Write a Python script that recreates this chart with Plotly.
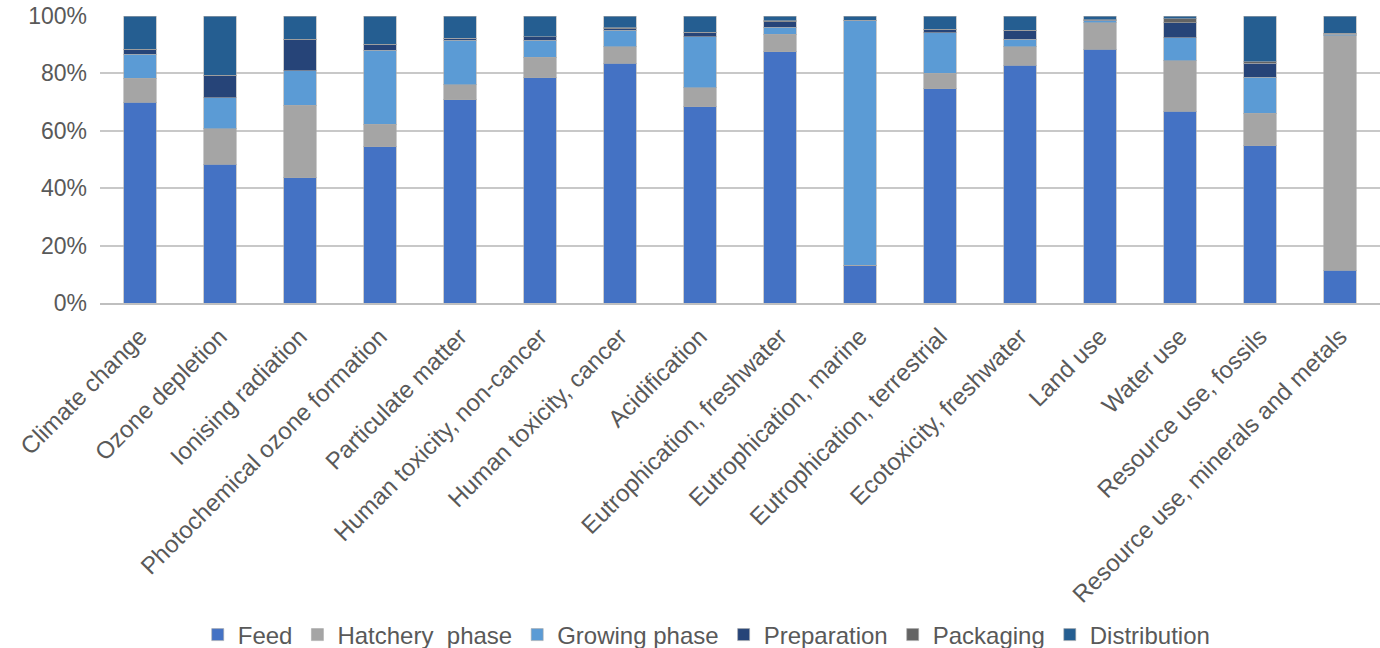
import plotly.graph_objects as go

categories = ["Climate change", "Ozone depletion", "Ionising radiation",
              "Photochemical ozone formation", "Particulate matter",
              "Human toxicity, non-cancer", "Human toxicity, cancer",
              "Acidification", "Eutrophication, freshwater", "Eutrophication, marine",
              "Eutrophication, terrestrial", "Ecotoxicity, freshwater", "Land use",
              "Water use", "Resource use, fossils", "Resource use, minerals and metals"]

feed =        [70.0, 48.4, 43.7, 54.4, 70.8, 78.4, 83.5, 68.3, 87.5, 12.9, 74.6, 82.9, 88.5, 66.9, 54.8, 11.5]
hatchery =    [8.3, 12.4, 25.2, 7.9, 5.3, 7.2, 5.8, 6.7, 6.2, 0.2, 5.4, 6.4, 9.2, 17.5, 11.4, 81.6]
growing =     [8.4, 10.7, 12.1, 25.8, 15.5, 6.0, 5.7, 17.7, 2.3, 85.2, 14.2, 2.6, 0.6, 8.1, 12.5, 0.6]
preparation = [1.5, 7.7, 10.7, 1.9, 0.6, 1.1, 0.6, 1.5, 2.0, 0.2, 1.0, 3.0, 0.2, 5.2, 4.8, 0.2]
packaging =   [0.3, 0.2, 0.2, 0.2, 0.1, 0.1, 0.3, 0.2, 0.3, 0.1, 0.2, 0.1, 0.2, 1.3, 0.6, 0.1]
distribution= [11.5, 20.6, 8.1, 9.8, 7.7, 7.2, 4.1, 5.6, 1.7, 1.4, 4.6, 5.0, 1.3, 1.0, 15.9, 6.0]

series_names = ["Feed", "Hatchery  phase", "Growing phase", "Preparation", "Packaging", "Distribution"]
series_values = [feed, hatchery, growing, preparation, packaging, distribution]
colors = ["#4472C4", "#A5A5A5", "#5B9BD5", "#264478", "#636363", "#255E91"]

ytick_vals = [0, 20, 40, 60, 80, 100]
ytick_text = ["0%", "20%", "40%", "60%", "80%", "100%"]

fig = go.Figure()
for name, vals, col in zip(series_names, series_values, colors):
    fig.add_trace(go.Bar(
        x=categories, y=vals, name=name,
        marker=dict(color=col, line=dict(color="rgba(170,170,170,0.6)", width=1)),
    ))

font = dict(family="Liberation Sans, Arial, sans-serif", size=23, color="#595959")
xfont = dict(family="Liberation Sans, Arial, sans-serif", size=24, color="#595959")
lfont = dict(family="Liberation Sans, Arial, sans-serif", size=24, color="#595959")

fig.update_layout(
    barmode="stack",
    bargap=0.59,
    width=1380, height=648,
    margin=dict(l=100, r=0, t=16, b=345, autoexpand=False),
    paper_bgcolor="white", plot_bgcolor="white",
    font=font,
    showlegend=True,
    legend=dict(orientation="h", x=0.474, xanchor="center",
                yref="container", y=1 - 635 / 648, yanchor="middle",
                font=lfont, traceorder="normal", itemwidth=30),
    xaxis=dict(tickangle=-45, showgrid=False, showline=True, linecolor="#BFBFBF",
               linewidth=2, ticks="", tickfont=xfont, automargin=False,
               ticklabelstandoff=8),
    yaxis=dict(range=[0, 100], tickvals=ytick_vals, ticktext=ytick_text,
               showgrid=True, gridcolor="#C8C8C8", gridwidth=2, zeroline=False,
               ticks="", ticklabelstandoff=12, tickfont=font, automargin=False),
)

fig.write_html("out.html")
